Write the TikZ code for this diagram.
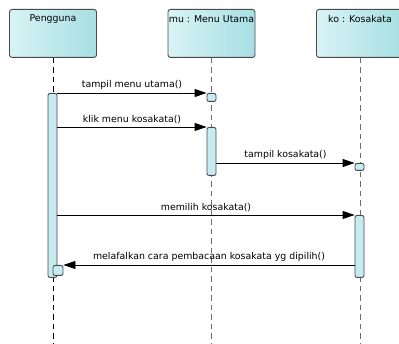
\documentclass[tikz,border=0pt]{standalone}
\usepackage{fontspec}
\setmainfont{DejaVu Sans}
\usetikzlibrary{arrows.meta}
\definecolor{boxL}{HTML}{D9F3F5}
\definecolor{boxR}{HTML}{A6DFE3}
\definecolor{actfill}{HTML}{C6ECEF}
\definecolor{edge}{HTML}{4A4A4A}
\definecolor{lifegray}{HTML}{6E6E6E}
\tikzset{
  header/.style={draw=edge, line width=0.9pt, rounded corners=2.5pt,
    left color=boxL, right color=boxR, minimum width=87pt, minimum height=48pt,
    anchor=north, inner sep=0pt},
  title/.style={font=\fontsize{9.4}{11}\selectfont, inner sep=0pt, anchor=center},
  actbar/.style={draw=edge, line width=0.9pt, rounded corners=2pt, fill=actfill,
    minimum width=9pt, anchor=north, inner sep=0pt},
  life/.style={line width=1pt, dash pattern=on 5.5pt off 4pt},
  msg/.style={line width=0.9pt, -{Triangle[length=12pt,width=8pt]}},
  mlabel/.style={font=\fontsize{9.4}{11}\selectfont, inner sep=0pt},
}
\begin{document}
\begin{tikzpicture}[x=1pt,y=-1pt]
\useasboundingbox (0,0) rectangle (399,344);
\begin{scope}
\clip (0,0) rectangle (399,344);
% object headers
\node[header] (hP) at (53,9) {};
\node[header] (hM) at (211.5,9) {};
\node[header] (hK) at (360,9) {};
\end{scope}
\node[title] (tP) at (53,19.5) {Pengguna};
\node[title] (tM) at (211.5,19.5) {mu : Menu Utama};
\node[title] (tK) at (360,19.5) {ko : Kosakata};

% lifeline ends
\coordinate (eP) at (53,344);
\coordinate (eM) at (211.5,344);
\coordinate (eK) at (360,344);
\draw[life, black] (hP.south) -- (eP);
\draw[life, lifegray] (hM.south) -- (eM);
\draw[life, lifegray] (hK.south) -- (eK);

% activation bars
\node[actbar, minimum height=184pt] (aP) at (52.5,93) {};
\node[actbar, minimum height=10pt, minimum width=10pt] (aPn) at (58,265) {};
\node[actbar, minimum height=8pt] (aM1) at (211.5,93) {};
\node[actbar, minimum height=48pt] (aM2) at (211.5,127) {};
\node[actbar, minimum height=7pt] (aK1) at (359.5,163) {};
\node[actbar, minimum height=62pt] (aK2) at (359.5,215) {};

% messages
\draw[msg] (aP.north east) -- (aM1.north west)
  node[mlabel, midway, above=3pt] (m1) {tampil menu utama()};
\draw[msg] (aP.east |- aM2.north west) -- (aM2.north west)
  node[mlabel, midway, above=3pt] (m2) {klik menu kosakata()};
\draw[msg] (aM2.east |- aK1.north west) -- (aK1.north west)
  node[mlabel, midway, above=3pt] (m3) {tampil kosakata()};
\draw[msg] (aP.east |- aK2.north west) -- (aK2.north west)
  node[mlabel, midway, above=3pt] (m4) {memilih kosakata()};
\draw[msg] (aK2.west |- aPn.north east) -- (aPn.north east)
  node[mlabel, midway, above=3pt] (m5) {melafalkan cara pembacaan kosakata yg dipilih()};
\end{tikzpicture}
\end{document}
